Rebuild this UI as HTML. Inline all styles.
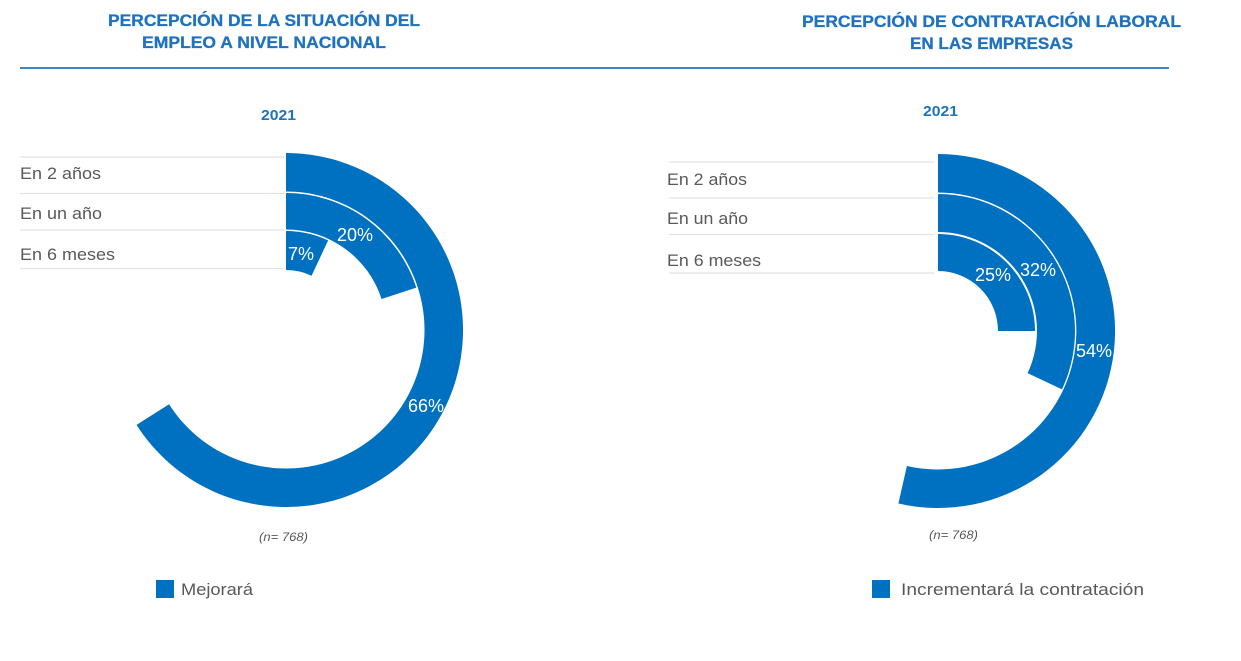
<!DOCTYPE html>
<html>
<head>
<meta charset="utf-8">
<style>
  html, body { margin:0; padding:0; background:#ffffff; }
  svg { display:block; }
</style>
</head>
<body>
<svg width="1241" height="661" viewBox="0 0 1241 661" xmlns="http://www.w3.org/2000/svg">
  <rect width="1241" height="661" fill="#ffffff"/>

  <!-- Titles -->
  <g font-family="'Liberation Sans', sans-serif" font-weight="bold" fill="#1f72bf" stroke="#1f72bf" stroke-width="0.3" font-size="17">
    <text x="108" y="26" textLength="312" lengthAdjust="spacingAndGlyphs">PERCEPCIÓN DE LA SITUACIÓN DEL</text>
    <text x="142" y="48" textLength="244" lengthAdjust="spacingAndGlyphs">EMPLEO A NIVEL NACIONAL</text>
    <text x="802" y="27" textLength="379" lengthAdjust="spacingAndGlyphs">PERCEPCIÓN DE CONTRATACIÓN LABORAL</text>
    <text x="910" y="49" textLength="163" lengthAdjust="spacingAndGlyphs">EN LAS EMPRESAS</text>
  </g>
  <line x1="20" y1="68" x2="1169" y2="68" stroke="#3f86c2" stroke-width="2"/>

  <!-- Year labels -->
  <g font-family="'Liberation Sans', sans-serif" font-weight="bold" fill="#1f72bf" font-size="15">
    <text x="261" y="120" textLength="35" lengthAdjust="spacingAndGlyphs">2021</text>
    <text x="923" y="116" textLength="35" lengthAdjust="spacingAndGlyphs">2021</text>
  </g>

  <!-- Category gridlines -->
  <g stroke="#e2e2e2" stroke-width="1.2">
    <line x1="20" y1="157" x2="284" y2="157"/>
    <line x1="20" y1="193.5" x2="284" y2="193.5"/>
    <line x1="20" y1="230" x2="284" y2="230"/>
    <line x1="20" y1="268.5" x2="284" y2="268.5"/>
    <line x1="669" y1="162" x2="934" y2="162"/>
    <line x1="669" y1="198" x2="934" y2="198"/>
    <line x1="669" y1="234.5" x2="934" y2="234.5"/>
    <line x1="669" y1="273" x2="934" y2="273"/>
  </g>

  <!-- Category labels -->
  <g font-family="'Liberation Sans', sans-serif" fill="#595959" font-size="17">
    <text x="20" y="179" textLength="81" lengthAdjust="spacingAndGlyphs">En 2 años</text>
    <text x="20" y="219" textLength="82" lengthAdjust="spacingAndGlyphs">En un año</text>
    <text x="20" y="260" textLength="95" lengthAdjust="spacingAndGlyphs">En 6 meses</text>
    <text x="667" y="185" textLength="80" lengthAdjust="spacingAndGlyphs">En 2 años</text>
    <text x="667" y="224" textLength="81" lengthAdjust="spacingAndGlyphs">En un año</text>
    <text x="667" y="266" textLength="94" lengthAdjust="spacingAndGlyphs">En 6 meses</text>
  </g>

  <!-- Left radial bars: center (286,330) -->
  <g fill="#0070c0">
    <path d="M286,153 A177,177 0 1 1 136.56,424.84 L169.06,404.21 A138.5,138.5 0 1 0 286,191.5 Z"/>
    <path d="M286,193 A137,137 0 0 1 416.30,287.67 L381.58,298.95 A100.5,100.5 0 0 0 286,229.5 Z"/>
    <path d="M286,231 A99,99 0 0 1 328.15,240.42 L311.55,275.71 A60,60 0 0 0 286,270 Z"/>
  </g>

  <!-- Right radial bars: center (938,331) -->
  <g fill="#0070c0">
    <path d="M938,154 A177,177 0 1 1 898.4,503.5 L906.9,466.0 A138.5,138.5 0 1 0 938,192.5 Z"/>
    <path d="M938,194 A137,137 0 0 1 1061.96,389.33 L1027.58,373.15 A99,99 0 0 0 938,232 Z"/>
    <path d="M938,234 A97,97 0 0 1 1035,331 L998,331 A60,60 0 0 0 938,271 Z"/>
  </g>

  <!-- Value labels -->
  <g font-family="'Liberation Sans', sans-serif" fill="#ffffff" font-size="18" text-anchor="middle">
    <text x="301" y="260">7%</text>
    <text x="355" y="241">20%</text>
    <text x="426" y="412">66%</text>
    <text x="993" y="281">25%</text>
    <text x="1038" y="276">32%</text>
    <text x="1094" y="357">54%</text>
  </g>

  <!-- n labels -->
  <g font-family="'Liberation Sans', sans-serif" font-style="italic" fill="#595959" font-size="11.5">
    <text x="259" y="541" textLength="49" lengthAdjust="spacingAndGlyphs">(n= 768)</text>
    <text x="929" y="539" textLength="49" lengthAdjust="spacingAndGlyphs">(n= 768)</text>
  </g>

  <!-- Legends -->
  <rect x="156" y="580" width="18" height="18" fill="#0070c0"/>
  <text x="181" y="595" font-family="'Liberation Sans', sans-serif" fill="#595959" font-size="17" textLength="72" lengthAdjust="spacingAndGlyphs">Mejorará</text>
  <rect x="872" y="580" width="18" height="18" fill="#0070c0"/>
  <text x="901" y="595" font-family="'Liberation Sans', sans-serif" fill="#595959" font-size="17" textLength="243" lengthAdjust="spacingAndGlyphs">Incrementará la contratación</text>
</svg>
</body>
</html>
